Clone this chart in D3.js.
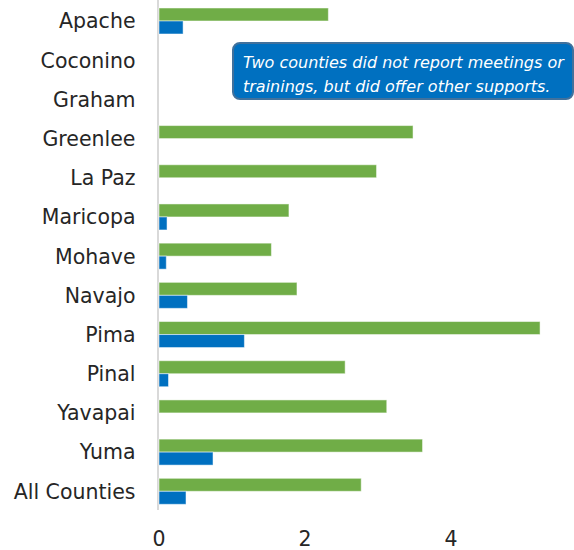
<!DOCTYPE html>
<html>
<head>
<meta charset="utf-8">
<script src="https://cdn.jsdelivr.net/npm/d3@7"></script>
<style>
  html, body { margin: 0; padding: 0; background: #fff; }
  svg { display: block; }
</style>
</head>
<body>
<svg id="chart" width="574" height="550"></svg>
<script>
const categories = ["Apache","Coconino","Graham","Greenlee","La Paz","Maricopa","Mohave","Navajo","Pima","Pinal","Yavapai","Yuma","All Counties"];
const greenValues = [2.32, 0, 0, 3.48, 2.98, 1.78, 1.54, 1.89, 5.22, 2.55, 3.12, 3.61, 2.77];
const blueValues  = [0.33, 0, 0, 0, 0, 0.11, 0.10, 0.39, 1.17, 0.13, 0, 0.74, 0.37];
const tickValues = [0, 2, 4];
const noteLines = ["Two counties did not report meetings or", "trainings, but did offer other supports."];

const series = [
  { key: "green", values: greenValues, color: "#70AD47" },
  { key: "blue", values: blueValues, color: "#0070C0" }
];

const svg = d3.select("#chart");
const fontFam = "'DejaVu Sans', sans-serif";

const x = d3.scaleLinear().domain([0, 6]).range([159, 597]);
const y = d3.scaleBand().domain(categories).range([-5.2, 517.5]).padding(0.3366);
const ySub = d3.scaleBand().domain(series.map(s => s.key)).range([0, y.bandwidth()]);

// baseline
svg.append("line")
  .attr("x1", 158).attr("x2", 158)
  .attr("y1", 0).attr("y2", 510)
  .attr("stroke", "#d9d9d9").attr("stroke-width", 2);

// bars
series.forEach(s => {
  svg.append("g").selectAll("rect")
    .data(categories.map((c, i) => ({ c, v: s.values[i] })).filter(d => d.v > 0))
    .join("rect")
    .attr("x", x(0))
    .attr("y", d => y(d.c) + ySub(s.key))
    .attr("width", d => x(d.v) - x(0))
    .attr("height", ySub.bandwidth())
    .attr("fill", s.color)
    .attr("stroke", "rgba(255,255,255,0.5)")
    .attr("stroke-width", 1);
});

// category labels
svg.append("g").selectAll("text")
  .data(categories)
  .join("text")
  .attr("x", 135.5)
  .attr("y", d => y(d) + y.bandwidth() / 2)
  .attr("dy", "0.36em")
  .attr("text-anchor", "end")
  .attr("font-family", fontFam)
  .attr("font-size", 20.5)
  .attr("fill", "#262626")
  .text(d => d);

// x axis tick labels
const xAxis = d3.axisBottom(x).tickValues(tickValues).tickSize(0).tickPadding(0).tickFormat(d3.format("d"));
const gx = svg.append("g").attr("transform", "translate(-0.5,531)").call(xAxis);
gx.select(".domain").remove();
gx.selectAll("text")
  .attr("dy", "0.75em")
  .attr("font-family", fontFam)
  .attr("font-size", 20.5)
  .attr("fill", "#262626");

// annotation
const note = svg.append("g");
note.append("rect")
  .attr("x", 233).attr("y", 43)
  .attr("width", 340).attr("height", 56)
  .attr("rx", 7).attr("ry", 7)
  .attr("fill", "#0070C0")
  .attr("stroke", "#41719C")
  .attr("stroke-width", 2);
note.selectAll("text")
  .data(noteLines)
  .join("text")
  .attr("x", 243)
  .attr("y", (d, i) => 62 + i * 24)
  .attr("dy", "0.35em")
  .attr("font-family", fontFam)
  .attr("font-style", "italic")
  .attr("font-size", 16)
  .attr("fill", "#fff")
  .text(d => d);
</script>
</body>
</html>
